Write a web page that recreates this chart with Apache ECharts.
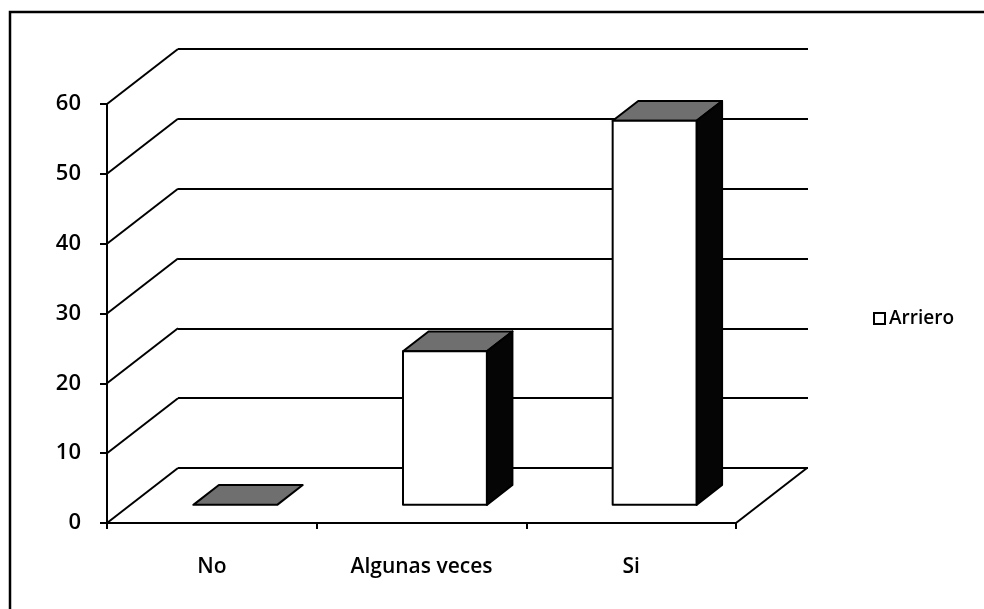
<!DOCTYPE html>
<html>
<head>
<meta charset="utf-8">
<script src="https://cdn.jsdelivr.net/npm/echarts@6/dist/echarts.min.js"></script>
<style>
  html, body { margin: 0; padding: 0; background: #fff; }
  #chart { width: 984px; height: 609px; }
</style>
</head>
<body>
<div id="chart"></div>
<script>
// Survey answers and their counts for "Arriero"
const categories = ['No', 'Algunas veces', 'Si'];
const arrieroValues = [0, 22, 55];
const seriesName = 'Arriero';
const yTicks = [0, 10, 20, 30, 40, 50, 60];

// Perspective offset of the back wall relative to the front plane (px)
const DEPTH_X = 71;
const DEPTH_Y = -55;
// Bars sit between these depth fractions of the floor
const BAR_FRONT = 0.33;
const BAR_BACK = 0.69;

const FONT = '"Open Sans", Lato, sans-serif';
const WEIGHT = 600;

const chart = echarts.init(document.getElementById('chart'), null, { renderer: 'canvas' });

// Diagonal lines joining the front value axis to the back wall, plus the floor's right edge
function renderWallEdges(params, api) {
  const cs = params.coordSys;
  const v = api.value(0);
  const y = api.coord([0, v])[1];
  const children = [{
    type: 'line',
    shape: { x1: cs.x, y1: y, x2: cs.x + DEPTH_X, y2: y + DEPTH_Y },
    style: { stroke: '#000', lineWidth: 2 }
  }];
  if (v === 0) {
    const xr = cs.x + cs.width;
    children.push({
      type: 'line',
      shape: { x1: xr, y1: y, x2: xr + DEPTH_X, y2: y + DEPTH_Y },
      style: { stroke: '#000', lineWidth: 2 }
    });
  }
  return { type: 'group', children: children };
}

// Box-shaped bar: white front face, grey top, black side
function renderBox(params, api) {
  const idx = api.value(0);
  const v = api.value(1);
  const base = api.coord([idx, 0]);
  const top = api.coord([idx, v]);
  const halfW = api.size([1, 0])[0] * 0.2;
  const fx = BAR_FRONT * DEPTH_X, fy = BAR_FRONT * DEPTH_Y;
  const bx = (BAR_BACK - BAR_FRONT) * DEPTH_X, by = (BAR_BACK - BAR_FRONT) * DEPTH_Y;
  const l = base[0] + fx - halfW;
  const r = base[0] + fx + halfW;
  const yb = base[1] + fy;
  const yt = top[1] + fy;
  const stroke = { stroke: '#000', lineWidth: 2, lineJoin: 'round' };
  const children = [];
  children.push({
    type: 'polygon',
    shape: { points: [[l, yt], [r, yt], [r + bx, yt + by], [l + bx, yt + by]] },
    style: Object.assign({ fill: '#6f6f6f' }, stroke)
  });
  if (v > 0) {
    children.push({
      type: 'polygon',
      shape: { points: [[r, yt], [r + bx, yt + by], [r + bx, yb + by], [r, yb]] },
      style: Object.assign({ fill: '#050505' }, stroke)
    });
    children.push({
      type: 'rect',
      shape: { x: l, y: yt, width: r - l, height: yb - yt },
      style: Object.assign({ fill: '#ffffff' }, stroke)
    });
  }
  return { type: 'group', children: children };
}

const option = {
  backgroundColor: '#ffffff',
  animation: false,
  textStyle: { fontFamily: FONT },
  graphic: [{
    type: 'rect',
    shape: { x: 10, y: 12, width: 1000, height: 1000 },
    style: { fill: 'none', stroke: '#000', lineWidth: 2.5 },
    silent: true
  }],
  legend: {
    data: [{ name: seriesName, icon: 'rect' }],
    left: 868,
    top: 304,
    itemWidth: 11,
    itemHeight: 11,
    itemGap: 4,
    itemStyle: { color: '#ffffff', borderColor: '#000', borderWidth: 2 },
    textStyle: { fontFamily: FONT, fontWeight: WEIGHT, fontSize: 19, color: '#000', padding: [0, 0, 0, -1] }
  },
  grid: [
    { left: 107, top: 104, width: 629, height: 419 },
    { left: 107 + DEPTH_X, top: 104 + DEPTH_Y, width: 630, height: 419 }
  ],
  xAxis: [
    {
      type: 'category', gridIndex: 0, data: categories,
      axisLine: { lineStyle: { color: '#000', width: 2 } },
      axisTick: { show: true, length: 6, lineStyle: { color: '#000', width: 2 } },
      axisLabel: { color: '#000', fontSize: 21, fontWeight: WEIGHT, fontFamily: FONT, margin: 34 },
      splitLine: { show: false }
    },
    {
      type: 'category', gridIndex: 1, data: categories,
      axisLine: { show: false }, axisTick: { show: false },
      axisLabel: { show: false }, splitLine: { show: false }
    }
  ],
  yAxis: [
    {
      type: 'value', gridIndex: 0, min: 0, max: 60, interval: 10,
      axisLine: { show: true, lineStyle: { color: '#000', width: 2 } },
      axisTick: { show: true, length: 7, lineStyle: { color: '#000', width: 2 } },
      axisLabel: { color: '#000', fontSize: 22, fontWeight: WEIGHT, fontFamily: FONT, margin: 26 },
      splitLine: { show: false }
    },
    {
      type: 'value', gridIndex: 1, min: 0, max: 60, interval: 10,
      axisLine: { show: false }, axisTick: { show: false },
      axisLabel: { show: false },
      splitLine: { show: true, lineStyle: { color: '#000', width: 2 } }
    }
  ],
  series: [
    {
      type: 'custom', name: 'walls', xAxisIndex: 0, yAxisIndex: 0,
      renderItem: renderWallEdges,
      data: yTicks.map(v => [v]),
      silent: true, z: 1
    },
    {
      type: 'custom', name: seriesName, xAxisIndex: 0, yAxisIndex: 0,
      itemStyle: { color: '#ffffff', borderColor: '#000' },
      renderItem: renderBox,
      data: arrieroValues.map((v, i) => [i, v]),
      z: 5
    }
  ]
};

chart.setOption(option);
</script>
</body>
</html>
